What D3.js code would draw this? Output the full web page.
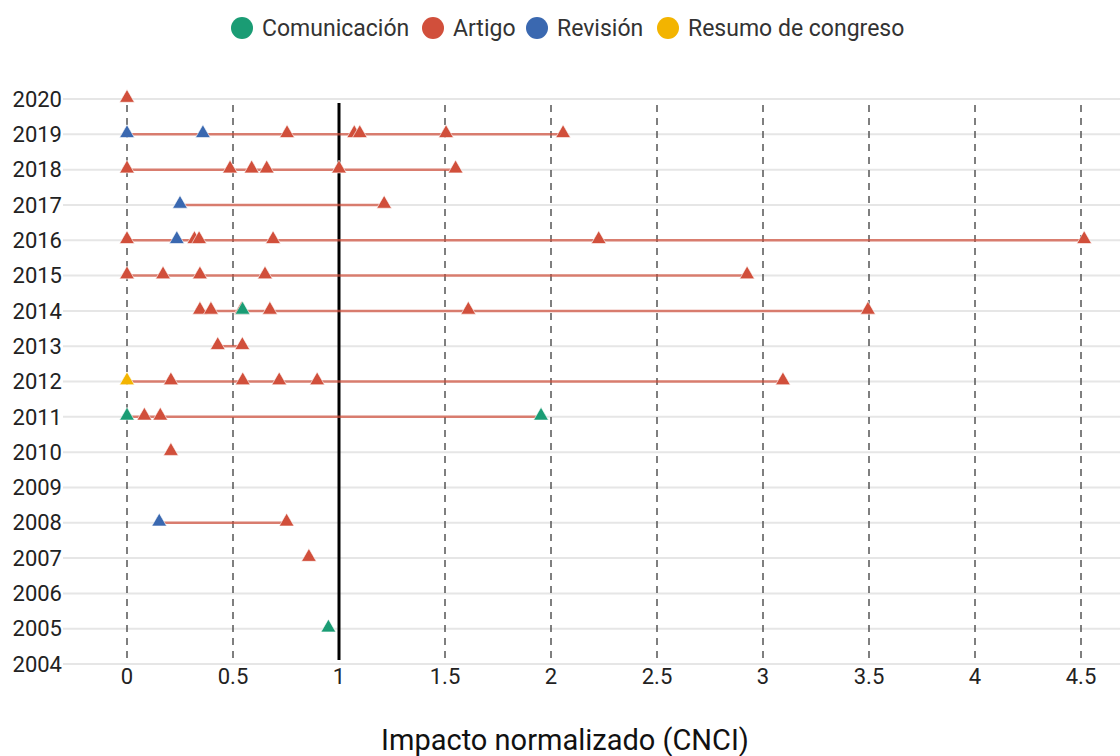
<!DOCTYPE html>
<html>
<head>
<meta charset="utf-8">
<script src="https://cdn.jsdelivr.net/npm/d3@7"></script>
<style>
  body { margin: 0; background: #fff; }
  svg { display: block; font-family: Roboto, sans-serif; }
</style>
</head>
<body>
<svg id="chart" width="1120" height="756"></svg>
<script>
/* global d3 */

// categories
const types = ['Comunicación', 'Artigo', 'Revisión', 'Resumo de congreso']
const typeColors = ['#1a9c74', '#d14f3b', '#3a68b0', '#f3b400']
const years = d3.range(2004, 2021)
const xTicks = [0, 0.5, 1, 1.5, 2, 2.5, 3, 3.5, 4, 4.5]

// points: [year, value]
const comunicacion = [[2014, 0.545], [2011, 0], [2011, 1.953], [2005, 0.95]]
const artigo = [
  [2020, 0],
  [2019, 0.755], [2019, 1.072], [2019, 1.098], [2019, 1.505], [2019, 2.057],
  [2018, 0], [2018, 0.486], [2018, 0.588], [2018, 0.659], [2018, 1.0], [2018, 1.55],
  [2017, 1.213],
  [2016, 0], [2016, 0.318], [2016, 0.34], [2016, 0.689], [2016, 2.225], [2016, 4.515],
  [2015, 0], [2015, 0.17], [2015, 0.344], [2015, 0.651], [2015, 2.925],
  [2014, 0.344], [2014, 0.396], [2014, 0.54], [2014, 0.674], [2014, 1.61], [2014, 3.495],
  [2013, 0.428], [2013, 0.544],
  [2012, 0.207], [2012, 0.546], [2012, 0.718], [2012, 0.897], [2012, 3.094],
  [2011, 0.082], [2011, 0.157],
  [2010, 0.207],
  [2008, 0.753],
  [2007, 0.858]
]
const revision = [[2019, 0], [2019, 0.358], [2017, 0.25], [2016, 0.235], [2008, 0.152]]
const resumo = [[2012, 0]]

const series = [comunicacion, artigo, revision, resumo]
const points = []
// artigo first, the others drawn on top
;[1, 0, 2, 3].forEach(i => {
  series[i].forEach(d => points.push({ year: d[0], value: d[1], type: i }))
})

const svg = d3.select('#chart')

const x = d3.scaleLinear().domain([0, 4.5]).range([127, 1081])
const y = d3.scaleLinear().domain([2020, 2004]).range([99, 664])

// horizontal grid per year
svg.append('g')
  .selectAll('line')
  .data(years)
  .join('line')
  .attr('x1', 63).attr('x2', 1120)
  .attr('y1', d => y(d)).attr('y2', d => y(d))
  .attr('stroke', '#e6e6e6')
  .attr('stroke-width', 2)

// vertical dashed grid
svg.append('g')
  .selectAll('line')
  .data(xTicks.filter(d => d !== 1))
  .join('line')
  .attr('x1', d => x(d)).attr('x2', d => x(d))
  .attr('y1', 105).attr('y2', 662)
  .attr('stroke', '#555')
  .attr('stroke-width', 1.5)
  .attr('stroke-dasharray', '7,6')

// reference line at 1
svg.append('line')
  .attr('x1', x(1)).attr('x2', x(1))
  .attr('y1', 103).attr('y2', 660)
  .attr('stroke', '#000')
  .attr('stroke-width', 3)

// range line per year
const ranges = d3.rollups(points, v => d3.extent(v, d => d.value), d => d.year)
  .filter(r => r[1][0] !== r[1][1])
svg.append('g')
  .selectAll('line')
  .data(ranges)
  .join('line')
  .attr('x1', d => x(d[1][0])).attr('x2', d => x(d[1][1]))
  .attr('y1', d => y(d[0])).attr('y2', d => y(d[0]))
  .attr('stroke', '#d14f3b')
  .attr('stroke-opacity', 0.7)
  .attr('stroke-width', 2.5)

// triangles
const tri = d3.symbol().type(d3.symbolTriangle).size(95)
svg.append('g')
  .selectAll('path')
  .data(points)
  .join('path')
  .attr('d', tri)
  .attr('transform', d => `translate(${x(d.value)},${y(d.year) - 1})`)
  .attr('fill', d => typeColors[d.type])
  .attr('stroke', '#fff')
  .attr('stroke-opacity', 0.6)
  .attr('stroke-width', 1)

// y axis labels
svg.append('g')
  .selectAll('text')
  .data(years)
  .join('text')
  .attr('x', 62)
  .attr('y', d => y(d))
  .attr('dy', '0.35em')
  .attr('text-anchor', 'end')
  .attr('font-size', 22)
  .attr('fill', '#222')
  .text(d => d)

// x axis labels
svg.append('g')
  .selectAll('text')
  .data(xTicks)
  .join('text')
  .attr('x', d => x(d))
  .attr('y', 684)
  .attr('text-anchor', 'middle')
  .attr('font-size', 22)
  .attr('fill', '#222')
  .text(d => d3.format('~g')(d))

svg.append('text')
  .attr('x', 565)
  .attr('y', 750)
  .attr('text-anchor', 'middle')
  .attr('font-size', 29)
  .attr('fill', '#111')
  .text('Impacto normalizado (CNCI)')

// legend
const legendX = [242, 433, 537, 668]
const legend = svg.append('g')
  .selectAll('g')
  .data(types)
  .join('g')
  .attr('transform', (d, i) => `translate(${legendX[i]},28)`)
legend.append('circle')
  .attr('r', 11)
  .attr('fill', (d, i) => typeColors[i])
legend.append('text')
  .attr('x', 20)
  .attr('dy', '0.35em')
  .attr('font-size', 23)
  .attr('fill', '#333')
  .text(d => d)
</script>
</body>
</html>
